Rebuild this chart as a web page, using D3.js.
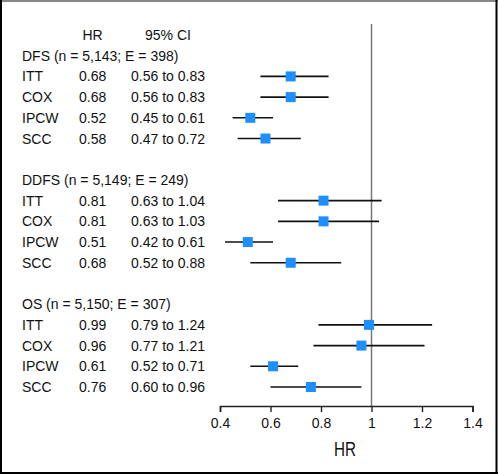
<!DOCTYPE html>
<html><head><meta charset="utf-8">
<script src="https://cdn.jsdelivr.net/npm/d3@7"></script>
<style>body{margin:0;background:#fff}svg{display:block}</style>
</head><body>
<script>
const groups = ["DFS (n = 5,143; E = 398)", "DDFS (n = 5,149; E = 249)", "OS (n = 5,150; E = 307)"];
const methods = ["ITT", "COX", "IPCW", "SCC"];
const hr = [[0.68, 0.68, 0.52, 0.58], [0.81, 0.81, 0.51, 0.68], [0.99, 0.96, 0.61, 0.76]];
const lo = [[0.56, 0.56, 0.45, 0.47], [0.63, 0.63, 0.42, 0.52], [0.79, 0.77, 0.52, 0.60]];
const hi = [[0.83, 0.83, 0.61, 0.72], [1.04, 1.03, 0.61, 0.88], [1.24, 1.21, 0.71, 0.96]];
const hrText = [["0.68", "0.68", "0.52", "0.58"], ["0.81", "0.81", "0.51", "0.68"], ["0.99", "0.96", "0.61", "0.76"]];
const ciText = [["0.56 to 0.83", "0.56 to 0.83", "0.45 to 0.61", "0.47 to 0.72"], ["0.63 to 1.04", "0.63 to 1.03", "0.42 to 0.61", "0.52 to 0.88"], ["0.79 to 1.24", "0.77 to 1.21", "0.52 to 0.71", "0.60 to 0.96"]];
const ticks = [0.4, 0.6, 0.8, 1, 1.2, 1.4];
const headers = ["HR", "95% CI"];

const W = 498, H = 474;
const svg = d3.select("body").append("svg").attr("width", W).attr("height", H);
const font = "'Liberation Sans', Arial, Helvetica, sans-serif";

// frame
svg.append("line").attr("x1", 0).attr("x2", W).attr("y1", 1).attr("y2", 1).attr("stroke", "#888").attr("stroke-width", 2);
svg.append("line").attr("x1", 1).attr("x2", 1).attr("y1", 0).attr("y2", 474).attr("stroke", "#000").attr("stroke-width", 2);
svg.append("line").attr("x1", 496.5).attr("x2", 496.5).attr("y1", 0).attr("y2", 474).attr("stroke", "#000").attr("stroke-width", 2);
svg.append("line").attr("x1", 0).attr("x2", W).attr("y1", 473).attr("y2", 473).attr("stroke", "#000").attr("stroke-width", 2);

const x = d3.scaleLinear().domain([0.4, 1.4]).range([220, 472.5]);
const row = d3.scaleLinear().domain([0, 17]).range([35, 387]);

// build rows
const rows = [];
groups.forEach((g, gi) => {
  const base = 1 + gi * 6;
  rows.push({type: "group", label: g, r: base});
  methods.forEach((m, mi) => {
    rows.push({type: "item", label: m, r: base + 1 + mi, hr: hr[gi][mi], lo: lo[gi][mi], hi: hi[gi][mi], hrt: hrText[gi][mi], cit: ciText[gi][mi]});
  });
});

const txt = svg.append("g").attr("font-family", font).attr("font-size", 14).attr("fill", "#111");
txt.append("text").attr("x", 92.5).attr("y", row(0) + 5).attr("text-anchor", "middle").text(headers[0]);
txt.append("text").attr("x", 168).attr("y", row(0) + 5).attr("text-anchor", "middle").text(headers[1]);
rows.forEach(d => {
  txt.append("text").attr("x", 22).attr("y", row(d.r) + 5).text(d.label);
  if (d.type === "item") {
    txt.append("text").attr("x", 79).attr("y", row(d.r) + 5).text(d.hrt);
    txt.append("text").attr("x", 131).attr("y", row(d.r) + 5).text(d.cit);
  }
});

// reference line
svg.append("line").attr("x1", x(1)).attr("x2", x(1)).attr("y1", 24).attr("y2", 406)
  .attr("stroke", "#777").attr("stroke-width", 1.5);

// axis
const axisG = svg.append("g").attr("transform", "translate(0,406)");
axisG.call(d3.axisBottom(x).tickValues(ticks).tickFormat(d3.format("")).tickSizeOuter(0).tickSize(6));
axisG.select(".domain").attr("stroke", "#222").attr("stroke-width", 1.6);
axisG.selectAll(".tick line").attr("stroke", "#222").attr("stroke-width", 1.4);
axisG.selectAll(".tick text").attr("font-family", font).attr("font-size", 14).attr("fill", "#111").attr("dy", "0.95em").attr("y", 9);

svg.append("text").attr("x", 345).attr("y", 456).attr("text-anchor", "middle")
  .attr("font-family", font).attr("font-size", 21).attr("fill", "#111")
  .attr("textLength", 22).attr("lengthAdjust", "spacingAndGlyphs").text("HR");

// CI lines and markers
const items = rows.filter(d => d.type === "item");
svg.append("g").selectAll("line").data(items).join("line")
  .attr("x1", d => x(d.lo)).attr("x2", d => x(d.hi))
  .attr("y1", d => row(d.r)).attr("y2", d => row(d.r))
  .attr("stroke", "#111").attr("stroke-width", 1.6);
const s = 10;
svg.append("g").selectAll("rect").data(items).join("rect")
  .attr("x", d => x(d.hr) - s / 2).attr("y", d => row(d.r) - s / 2)
  .attr("width", s).attr("height", s).attr("fill", "#1E8FFF");
</script>
</body></html>
